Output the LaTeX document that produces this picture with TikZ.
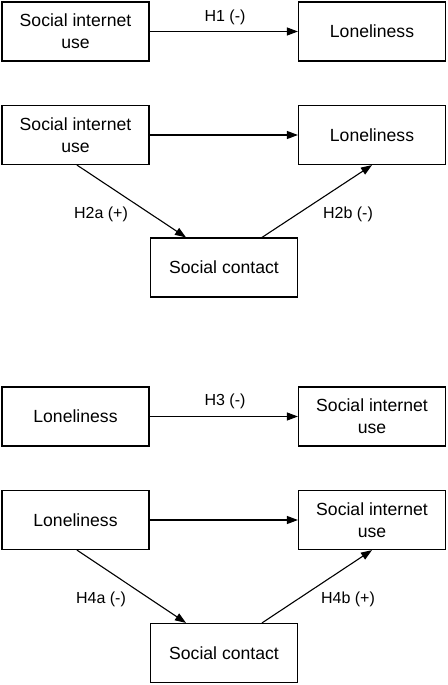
\documentclass[tikz,border=0pt]{standalone}
\usepackage{fontspec}
\setmainfont{Liberation Sans}
\usetikzlibrary{arrows.meta,positioning}
\begin{document}
\begin{tikzpicture}[x=1bp,y=-1bp,
  box/.style={draw,line width=1.2bp,minimum width=147bp,minimum height=59bp,inner sep=0pt,align=center,
    font=\fontsize{17.6bp}{22bp}\selectfont},
  lab/.style={inner sep=0pt,font=\fontsize{16bp}{19bp}\selectfont},
  arr/.style={line width=1.1bp,-{Triangle[length=11bp,width=8bp]}}]
\useasboundingbox (0,0) rectangle (448,685);
% panel 1
\node[box] (a1) at (75.5,31.5) {Social internet\\use};
\node[box] (b1) at (372,31.5) {Loneliness};
\draw[arr] (a1) -- (b1);
\node[lab] (h1) at (225,17) {H1 (-)};
% panel 2
\node[box] (a2) at (75.5,135) {Social internet\\use};
\node[box] (b2) at (372,135) {Loneliness};
\node[box] (c2) at (224,267.5) {Social contact};
\draw[arr] (a2) -- (b2);
\draw[arr] ([xshift=1.5bp]a2.south) -- ([xshift=-38bp]c2.north);
\draw[arr] ([xshift=38bp]c2.north) -- (b2.south);
\node[lab] (h2a) at (101,214) {H2a (+)};
\node[lab] (h2b) at (348,214) {H2b (-)};
% panel 3
\node[box] (a3) at (75.5,416.5) {Loneliness};
\node[box] (b3) at (372,416.5) {Social internet\\use};
\draw[arr] (a3) -- (b3);
\node[lab] (h3) at (225,401) {H3 (-)};
% panel 4
\node[box] (a4) at (75.5,520) {Loneliness};
\node[box] (b4) at (372,520) {Social internet\\use};
\node[box] (c4) at (224,653) {Social contact};
\draw[arr] (a4) -- (b4);
\draw[arr] ([xshift=1.5bp]a4.south) -- ([xshift=-38bp]c4.north);
\draw[arr] ([xshift=38bp]c4.north) -- (b4.south);
\node[lab] (h4a) at (101,599) {H4a (-)};
\node[lab] (h4b) at (348,599) {H4b (+)};
\end{tikzpicture}
\end{document}
